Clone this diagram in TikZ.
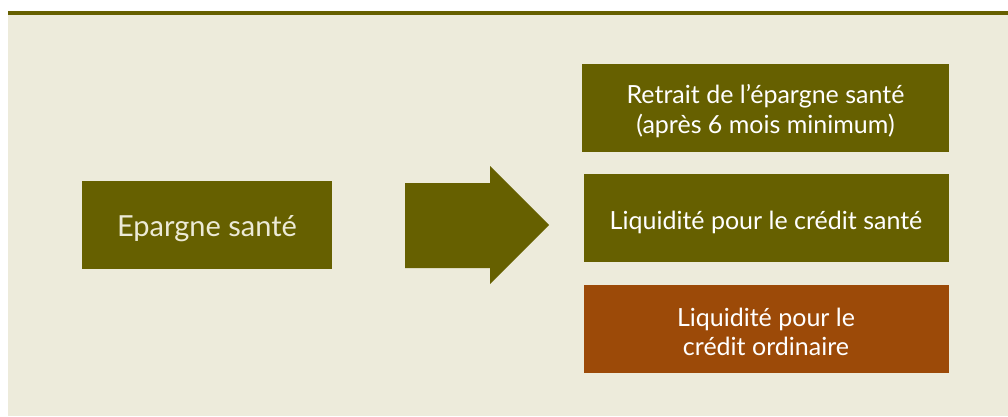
\documentclass[tikz,border=0pt]{standalone}
\usepackage{fontspec}
\setmainfont{Lato}
\definecolor{olive}{RGB}{102,96,0}
\definecolor{rust}{RGB}{156,74,8}
\definecolor{beige}{RGB}{237,235,219}
\definecolor{paletext}{RGB}{236,234,214}
\begin{document}
\begin{tikzpicture}[x=1pt,y=-1pt,
  box/.style={fill=olive,draw=none,inner sep=0pt},
  rustbox/.style={box,fill=rust},
  txt/.style={text=white,align=center,font=\fontsize{25}{29.5}\selectfont,inner sep=0pt}]
\useasboundingbox (0,0) rectangle (1008,417);
\fill[beige] (8,15) rectangle (1008,416);
\fill[olive] (8,11) rectangle (1008,15);
\node[box,minimum width=250pt,minimum height=88pt] (ep) at (207,225) {};
\node[txt,text=paletext,font=\fontsize{29}{32}\selectfont] (ept) at ([yshift=-4pt]ep.center) {Epargne santé};
\fill[olive] (405,183) -- (490,183) -- (490,166) -- (549,225) -- (490,284) -- (490,268) -- (405,268) -- cycle;
\node[box,minimum width=367pt,minimum height=88pt] (r) at (765.5,108) {};
\node[txt] (rt) at ([yshift=-3pt]r.center) {Retrait de l’épargne santé\\(après 6 mois minimum)};
\node[box,minimum width=365pt,minimum height=88pt] (l) at (766,218) {};
\node[txt] (lt) at ([yshift=-4pt]l.center) {Liquidité pour le crédit santé};
\node[rustbox,minimum width=365pt,minimum height=88pt] (o) at (766,329) {};
\node[txt] (ot) at ([yshift=-3pt]o.center) {Liquidité pour le\\crédit ordinaire};
\end{tikzpicture}
\end{document}
